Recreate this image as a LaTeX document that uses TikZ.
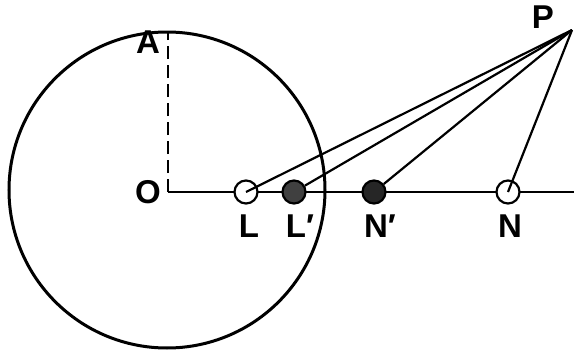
\documentclass[tikz,border=0pt]{standalone}
\usepackage{fontspec}
\setmainfont{Liberation Sans}
\begin{document}
\begin{tikzpicture}[x=1pt,y=-1pt,
  lbl/.style={font=\fontsize{33}{33}\selectfont\bfseries, inner sep=0pt},
  ray/.style={line width=2.2pt},
  body/.style={draw, line width=2.2pt, circle, inner sep=0pt, minimum size=23pt}]
\useasboundingbox (0,0) rectangle (574,351);
\coordinate (O) at (168,192);
\coordinate (C) at (167,190);
\coordinate (Atop) at (168,33);
\coordinate (E) at (574,192);
\coordinate (P) at (572,30);
\draw[line width=3pt] (C) circle (158);
\draw[line width=2.2pt, dash pattern=on 13pt off 6pt] (O) -- (Atop);
\draw[line width=2.4pt] (O) -- (E);
\node[body, fill=white] (L) at (246,192) {};
\node[body, fill=black!75] (Lp) at (294,192) {};
\node[body, fill=black!85] (Np) at (374,192) {};
\node[body, fill=white] (N) at (508,192) {};
\draw[ray] (P) -- (L.center);
\draw[ray] (P) -- (Lp);
\draw[ray] (P) -- (Np);
\draw[ray] (P) -- (N.center);
\node[lbl] (tA) at (148,42) {A};
\node[lbl] (tO) at (148,192) {O};
\node[lbl] (tL) at (249,226) {L};
\node[lbl] (tLp) at (300,226) {L′};
\node[lbl] (tNp) at (380,226) {N′};
\node[lbl] (tN) at (510,226) {N};
\node[lbl] (tP) at (543,17) {P};
\end{tikzpicture}
\end{document}
